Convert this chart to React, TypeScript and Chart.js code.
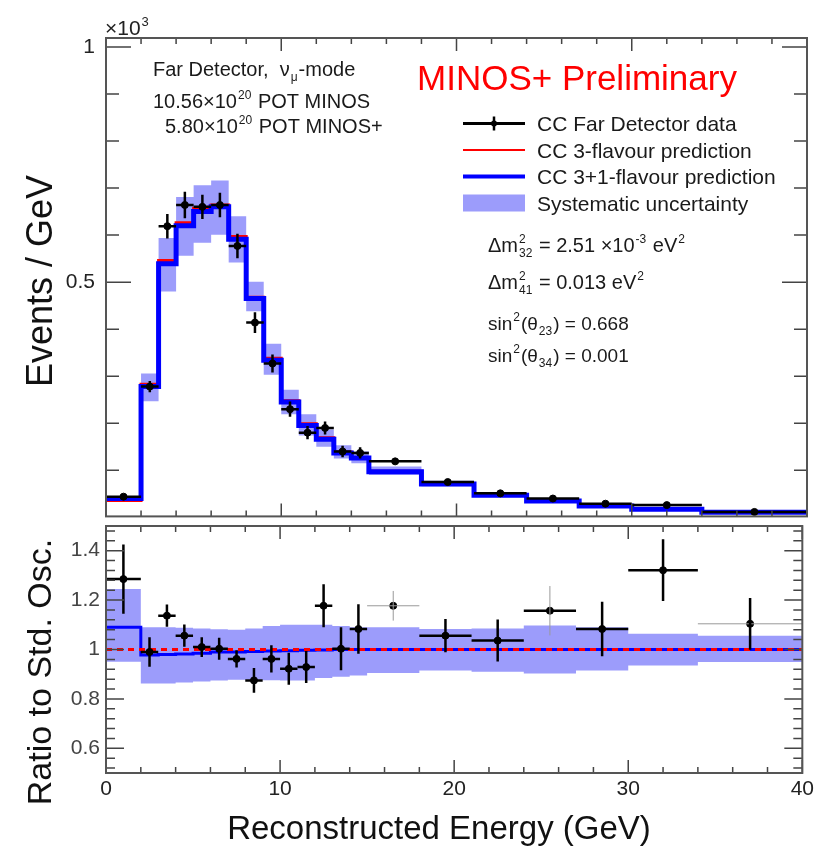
import React, { useEffect, useRef } from "react";
import { Chart, registerables } from "chart.js";
Chart.register(...registerables);

const FONT = '"Liberation Sans", Arial, Helvetica, sans-serif';

// ---------- data ----------
const binEdges = [0, 2, 3, 4, 5, 6, 7, 8, 9, 10, 11, 12, 13, 14, 15, 18, 21, 24, 27, 30, 34, 40];
const pred3Flavour = [36, 283, 546, 626, 657, 664, 597, 468, 338, 248, 199, 169, 139, 127, 98, 71, 47, 35, 24, 17, 11];
const pred3p1Flavour = [40, 278, 539, 620, 650, 660, 591, 465, 334, 245, 195, 166, 137, 126, 97, 71, 47, 35, 24, 17, 11];
const systLow = [34, 247, 480, 556, 584, 601, 542, 438, 303, 219, 174, 150, 125, 115, 90, 66, 44, 32, 22.4, 16.4, 10.6];
const systHigh = [44, 306, 594, 681, 706, 716, 640, 501, 369, 271, 219, 187, 153, 140, 108, 78, 52, 39, 26.7, 18.6, 11.8];

const dataEnergy = [1, 2.5, 3.5, 4.5, 5.5, 6.5, 7.5, 8.5, 9.5, 10.5, 11.5, 12.5, 13.5, 14.5, 16.5, 19.5, 22.5, 25.5, 28.5, 32, 37];
const dataEvents = [44, 278, 619, 664, 660, 664, 577, 414, 327, 230, 180, 190, 140, 137, 119, 75, 51, 40, 29, 26, 11.5];
const dataErr = [5, 12, 26, 28, 26, 26, 26, 22, 19, 16, 14, 14, 12, 12, 6, 5, 4, 4, 3, 3, 2];

const ratioData = [1.285, 0.99, 1.137, 1.056, 1.01, 1.003, 0.962, 0.875, 0.962, 0.922, 0.929, 1.177, 1.003, 1.083, 1.177, 1.056, 1.036, 1.157, 1.083, 1.321, 1.104];
const ratioErr = [0.14, 0.06, 0.045, 0.045, 0.04, 0.045, 0.035, 0.05, 0.055, 0.065, 0.065, 0.087, 0.087, 0.1, 0.06, 0.067, 0.085, 0.1, 0.11, 0.125, 0.105];
const ratio3p1 = [1.09, 0.978, 0.98, 0.982, 0.985, 0.99, 0.99, 0.992, 0.994, 0.995, 0.997, 0.998, 1, 1, 1, 1, 1, 1, 1, 1, 1];
const ratio3Flavour = [1, 1, 1, 1, 1, 1, 1, 1, 1, 1, 1, 1, 1, 1, 1, 1, 1, 1, 1, 1, 1];
const ratioSystLow = [0.95, 0.862, 0.862, 0.866, 0.87, 0.875, 0.878, 0.878, 0.876, 0.874, 0.874, 0.885, 0.89, 0.895, 0.905, 0.915, 0.91, 0.903, 0.915, 0.935, 0.949];
const ratioSystHigh = [1.245, 1.09, 1.09, 1.088, 1.085, 1.082, 1.08, 1.085, 1.095, 1.1, 1.1, 1.1, 1.095, 1.09, 1.09, 1.083, 1.085, 1.097, 1.09, 1.064, 1.056];

const eventTickValues = [500, 1000];
const eventTickLabels = ["0.5", "1"];
const ratioTickValues = [0.6, 0.8, 1, 1.2, 1.4];
const ratioTickLabels = ["0.6", "0.8", "1", "1.2", "1.4"];
const energyTickValues = [0, 10, 20, 30, 40];
const energyTickLabels = ["0", "10", "20", "30", "40"];

const legendLabels = [
  "CC Far Detector data",
  "CC 3-flavour prediction",
  "CC 3+1-flavour prediction",
  "Systematic uncertainty",
];

// ---------- styles ----------
const BAND = "#9c9cfb";
const faintH = new Set([14, 20]);
const faintV = new Set([14, 17]);

type Seg = { t: string; sup?: string; sub?: string };

function drawRich(ctx: CanvasRenderingContext2D, x: number, y: number, segs: Seg[], size: number, color = "#1a1a1a") {
  let cx = x;
  ctx.save();
  ctx.fillStyle = color;
  ctx.textBaseline = "alphabetic";
  ctx.textAlign = "left";
  for (const s of segs) {
    ctx.font = `${size}px ${FONT}`;
    ctx.fillText(s.t, cx, y);
    cx += ctx.measureText(s.t).width;
    if (s.sup || s.sub) {
      ctx.font = `${Math.round(size * 0.62)}px ${FONT}`;
      let w = 0;
      if (s.sup) {
        ctx.fillText(s.sup, cx + 1, y - size * 0.45);
        w = Math.max(w, ctx.measureText(s.sup).width);
      }
      if (s.sub) {
        ctx.fillText(s.sub, cx + 1, y + size * 0.25);
        w = Math.max(w, ctx.measureText(s.sub).width);
      }
      cx += w + 2;
    }
  }
  ctx.restore();
}

// bin i spans [edge i, edge i+1]; the point at edge i carries the value of bin i
function stepPoints(vals: number[]) {
  return binEdges.map((x, i) => ({ x, y: vals[Math.min(i, vals.length - 1)] }));
}

function drawFrameTicks(chart: any, yTicks: number[], yMajors: number[], yMajLen: number, yMinLen: number) {
  const { ctx, chartArea: a, scales } = chart;
  const xs = scales.x, ys = scales.y;
  ctx.save();
  ctx.strokeStyle = "#444";
  ctx.lineWidth = 1.5;
  ctx.beginPath();
  for (let e = 0; e <= 40; e += 2) {
    const px = xs.getPixelForValue(e);
    const len = e % 10 === 0 ? 13 : 6;
    ctx.moveTo(px, a.bottom);
    ctx.lineTo(px, a.bottom - len);
    ctx.moveTo(px, a.top);
    ctx.lineTo(px, a.top + len);
  }
  for (const v of yTicks) {
    const py = ys.getPixelForValue(v);
    const major = yMajors.some((m) => Math.abs(m - v) < 1e-6);
    const len = major ? yMajLen : yMinLen;
    ctx.moveTo(a.left, py);
    ctx.lineTo(a.left + len, py);
    ctx.moveTo(a.right, py);
    ctx.lineTo(a.right - len, py);
  }
  ctx.stroke();
  ctx.strokeStyle = "#555";
  ctx.lineWidth = 2;
  ctx.strokeRect(a.left, a.top, a.right - a.left, a.bottom - a.top);
  ctx.restore();
}

function drawErrorBars(chart: any, vals: number[], errs: number[], lw: number, faint: boolean) {
  const { ctx, chartArea: a, scales } = chart;
  const xs = scales.x, ys = scales.y;
  ctx.save();
  ctx.beginPath();
  ctx.rect(a.left, a.top, a.right - a.left, a.bottom - a.top);
  ctx.clip();
  for (let i = 0; i < vals.length; i++) {
    const px = xs.getPixelForValue(dataEnergy[i]);
    const py = ys.getPixelForValue(vals[i]);
    const xl = xs.getPixelForValue(binEdges[i]);
    const xr = xs.getPixelForValue(binEdges[i + 1]);
    const yt = ys.getPixelForValue(vals[i] + errs[i]);
    const yb = ys.getPixelForValue(vals[i] - errs[i]);
    const fh = faint && faintH.has(i);
    const fv = faint && faintV.has(i);
    ctx.strokeStyle = fh ? "#999" : "#000";
    ctx.lineWidth = fh ? 1 : lw;
    ctx.beginPath();
    ctx.moveTo(xl, py);
    ctx.lineTo(xr, py);
    ctx.stroke();
    ctx.strokeStyle = fv ? "#999" : "#000";
    ctx.lineWidth = fv ? 1 : lw;
    ctx.beginPath();
    ctx.moveTo(px, yt);
    ctx.lineTo(px, yb);
    ctx.stroke();
  }
  ctx.restore();
}

const topDecor = {
  id: "topDecor",
  afterDraw(chart: any) {
    const { ctx } = chart;
    drawErrorBars(chart, dataEvents, dataErr, 2.5, false);
    const yt: number[] = [];
    for (let k = 1; k <= 10; k++) yt.push(k * 100);
    drawFrameTicks(chart, yt, eventTickValues, 25, 13);

    // axis exponent
    drawRich(ctx, 105, 35, [{ t: "×10", sup: "3" }], 21, "#222");

    // axis title
    ctx.save();
    ctx.translate(42, 281);
    ctx.rotate(-Math.PI / 2);
    ctx.font = `36px ${FONT}`;
    ctx.fillStyle = "#111";
    ctx.textAlign = "center";
    ctx.textBaseline = "middle";
    ctx.fillText("Events / GeV", 0, 0);
    ctx.restore();

    // info text
    drawRich(ctx, 153, 76, [{ t: "Far Detector,  ν", sub: "μ" }, { t: "-mode" }], 20);
    drawRich(ctx, 153, 108, [{ t: "10.56×10", sup: "20" }, { t: " POT MINOS" }], 20);
    drawRich(ctx, 165, 133, [{ t: "5.80×10", sup: "20" }, { t: " POT MINOS+" }], 20);

    ctx.save();
    ctx.font = `35px ${FONT}`;
    ctx.fillStyle = "#ff0000";
    ctx.textBaseline = "alphabetic";
    ctx.fillText("MINOS+ Preliminary", 417, 90);
    ctx.restore();

    // legend
    const rows = [123.5, 150, 176.5, 203];
    ctx.save();
    ctx.lineCap = "butt";
    ctx.strokeStyle = "#000";
    ctx.lineWidth = 3;
    ctx.beginPath();
    ctx.moveTo(463, rows[0]);
    ctx.lineTo(525, rows[0]);
    ctx.stroke();
    ctx.lineWidth = 2.5;
    ctx.beginPath();
    ctx.moveTo(494, rows[0] - 7);
    ctx.lineTo(494, rows[0] + 7);
    ctx.stroke();
    ctx.fillStyle = "#000";
    ctx.beginPath();
    ctx.arc(494, rows[0], 3, 0, Math.PI * 2);
    ctx.fill();
    ctx.strokeStyle = "#ff0000";
    ctx.lineWidth = 2;
    ctx.beginPath();
    ctx.moveTo(463, rows[1]);
    ctx.lineTo(525, rows[1]);
    ctx.stroke();
    ctx.strokeStyle = "#0000ff";
    ctx.lineWidth = 4;
    ctx.beginPath();
    ctx.moveTo(463, rows[2]);
    ctx.lineTo(525, rows[2]);
    ctx.stroke();
    ctx.fillStyle = BAND;
    ctx.fillRect(463, rows[3] - 8.5, 62, 17);
    ctx.font = `21px ${FONT}`;
    ctx.fillStyle = "#1a1a1a";
    ctx.textBaseline = "alphabetic";
    legendLabels.forEach((l, i) => ctx.fillText(l, 537, rows[i] + 7.5));
    ctx.restore();

    // parameters
    drawRich(ctx, 488, 252, [{ t: "Δm", sup: "2", sub: "32" }, { t: " = 2.51 ×10", sup: "-3" }, { t: " eV", sup: "2" }], 20);
    drawRich(ctx, 488, 289, [{ t: "Δm", sup: "2", sub: "41" }, { t: " = 0.013 eV", sup: "2" }], 20);
    drawRich(ctx, 488, 330, [{ t: "sin", sup: "2" }, { t: "(θ", sub: "23" }, { t: ") = 0.668" }], 19);
    drawRich(ctx, 488, 362, [{ t: "sin", sup: "2" }, { t: "(θ", sub: "34" }, { t: ") = 0.001" }], 19);
  },
};

const bottomDecor = {
  id: "bottomDecor",
  afterDraw(chart: any) {
    const { ctx } = chart;
    drawErrorBars(chart, ratioData, ratioErr, 2.5, true);
    const yt: number[] = [];
    for (let k = 13; k <= 37; k++) yt.push(Math.round(k * 4) / 100);
    drawFrameTicks(chart, yt, ratioTickValues, 18, 9);

    ctx.save();
    ctx.translate(42, 172);
    ctx.rotate(-Math.PI / 2);
    ctx.font = `34px ${FONT}`;
    ctx.fillStyle = "#111";
    ctx.textAlign = "center";
    ctx.textBaseline = "middle";
    ctx.fillText("Ratio to Std. Osc.", 0, 0);
    ctx.restore();

    ctx.save();
    ctx.font = `33px ${FONT}`;
    ctx.fillStyle = "#111";
    ctx.textAlign = "center";
    ctx.textBaseline = "middle";
    ctx.fillText("Reconstructed Energy (GeV)", 439, 330);
    ctx.restore();
  },
};

function histLine(label: string, vals: number[], color: string, width: number, order: number, extra: any = {}) {
  return {
    label,
    data: stepPoints(vals),
    stepped: "before",
    borderColor: color,
    borderWidth: width,
    pointRadius: 0,
    fill: false,
    order,
    ...extra,
  };
}

export default function App() {
  const topRef = useRef<HTMLCanvasElement>(null);
  const botRef = useRef<HTMLCanvasElement>(null);

  useEffect(() => {
    const top = new Chart(topRef.current!, {
      type: "line",
      data: {
        datasets: [
          {
            type: "scatter",
            label: "data",
            data: dataEnergy.map((x, i) => ({ x, y: dataEvents[i] })),
            pointRadius: 3.5,
            pointBackgroundColor: "#000",
            pointBorderColor: "#000",
            showLine: false,
            order: 0,
          } as any,
          histLine("3+1", pred3p1Flavour, "#0000ff", 5, 1),
          histLine("3", pred3Flavour, "#ff0000", 3, 2),
          histLine("systLo", systLow, "rgba(0,0,0,0)", 0, 4),
          histLine("systHi", systHigh, "rgba(0,0,0,0)", 0, 3, { backgroundColor: BAND, fill: 3 }),
        ] as any,
      },
      options: {
        responsive: false,
        animation: false,
        events: [],
        layout: { padding: { left: 0, right: 11, top: 38, bottom: 14 } },
        plugins: { legend: { display: false }, tooltip: { enabled: false } },
        scales: {
          x: { type: "linear", min: 0, max: 40, display: false },
          y: {
            type: "linear",
            min: 2,
            max: 1019,
            afterBuildTicks: (s: any) => {
              s.ticks = eventTickValues.map((v) => ({ value: v }));
            },
            afterFit: (s: any) => {
              s.width = 106;
            },
            grid: { display: false, drawTicks: false },
            border: { display: false },
            ticks: {
              padding: 11,
              color: "#222",
              font: { family: FONT, size: 21 },
              callback: (v: any) => eventTickLabels[eventTickValues.indexOf(Number(v))] ?? "",
            },
          },
        },
      },
      plugins: [topDecor],
    });

    const bot = new Chart(botRef.current!, {
      type: "line",
      data: {
        datasets: [
          {
            type: "scatter",
            label: "ratio",
            data: dataEnergy.map((x, i) => ({ x, y: ratioData[i] })),
            pointRadius: 3.5,
            pointBackgroundColor: "#000",
            pointBorderColor: "#000",
            showLine: false,
            order: 0,
          } as any,
          histLine("3flav", ratio3Flavour, "#ff0000", 3, 1, { borderDash: [6, 5] }),
          histLine("3+1", ratio3p1, "#0000ff", 3, 2),
          histLine("systLo", ratioSystLow, "rgba(0,0,0,0)", 0, 4),
          histLine("systHi", ratioSystHigh, "rgba(0,0,0,0)", 0, 3, { backgroundColor: BAND, fill: 3 }),
        ] as any,
      },
      options: {
        responsive: false,
        animation: false,
        events: [],
        layout: { padding: { left: 0, right: 11, top: 26, bottom: 0 } },
        plugins: { legend: { display: false }, tooltip: { enabled: false } },
        scales: {
          x: {
            type: "linear",
            min: 0,
            max: 40,
            afterBuildTicks: (s: any) => {
              s.ticks = energyTickValues.map((v) => ({ value: v }));
            },
            afterFit: (s: any) => {
              s.height = 76;
            },
            grid: { display: false, drawTicks: false },
            border: { display: false },
            ticks: {
              padding: 4,
              color: "#222",
              maxRotation: 0,
              autoSkip: false,
              font: { family: FONT, size: 21 },
              callback: (v: any) => energyTickLabels[energyTickValues.indexOf(Number(v))] ?? "",
            },
          },
          y: {
            type: "linear",
            min: 0.5,
            max: 1.5,
            afterBuildTicks: (s: any) => {
              s.ticks = ratioTickValues.map((v) => ({ value: v }));
            },
            afterFit: (s: any) => {
              s.width = 106;
            },
            grid: { display: false, drawTicks: false },
            border: { display: false },
            ticks: {
              padding: 6,
              color: "#444",
              autoSkip: false,
              font: { family: FONT, size: 21 },
              callback: (v: any) => {
                const i = ratioTickValues.findIndex((t) => Math.abs(t - Number(v)) < 1e-6);
                return i >= 0 ? ratioTickLabels[i] : "";
              },
            },
          },
        },
      },
      plugins: [bottomDecor],
    });

    return () => {
      top.destroy();
      bot.destroy();
    };
  }, []);

  return (
    <div style={{ position: "fixed", left: 0, top: 0, width: 818, height: 849, background: "#fff", overflow: "hidden" }}>
      <canvas ref={topRef} width={818} height={540} style={{ position: "absolute", left: 0, top: 0, width: 818, height: 540 }} />
      <canvas ref={botRef} width={818} height={349} style={{ position: "absolute", left: 0, top: 500, width: 818, height: 349 }} />
    </div>
  );
}
